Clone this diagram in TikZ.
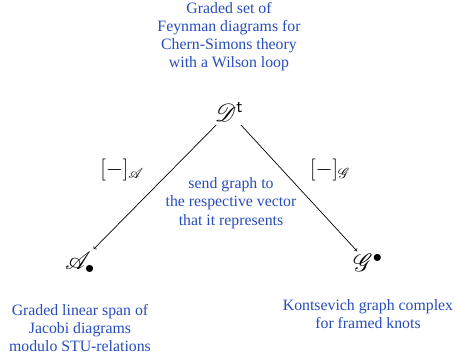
\documentclass[tikz,border=0pt]{standalone}
\usepackage{fix-cm}
\usepackage{mathrsfs}
\usepackage[no-math]{fontspec}
\setmainfont{Liberation Serif}
\usetikzlibrary{positioning}
\definecolor{capblue}{RGB}{38,76,186}
\newcommand{\Dgr}{\mathscr{D}^{\mathsf{t}}}
\newcommand{\Ajac}{\mathscr{A}_{\bullet}}
\newcommand{\Gkon}{\mathscr{G}^{\bullet}}

\begin{document}
\begin{tikzpicture}[x=1pt,y=-1pt,>=to,font=\fontsize{15.8}{18.3}\selectfont,node distance=12pt]
\tikzstyle{caption}=[text=capblue,align=center,inner sep=0pt]
\tikzstyle{obj}=[inner sep=3pt,font=\fontsize{26}{30}\selectfont]
\tikzstyle{maplabel}=[inner sep=2pt,font=\fontsize{22}{26}\selectfont]
\useasboundingbox (0,0) rectangle (468,358);
\node[obj] (D) at (229,112) {$\Dgr$};
\node[obj] (A) at (80,263) {$\Ajac$};
\node[obj] (G) at (368,263) {$\Gkon$};
\node[caption,above=27.5pt of D] (Dtext) {Graded set of\\Feynman diagrams for\\Chern-Simons theory\\with a Wilson loop};
\node[caption,below=27pt of A] (Atext) {Graded linear span of\\Jacobi diagrams\\modulo STU-relations};
\node[caption,below=24pt of G] (Gtext) {Kontsevich graph complex\\for framed knots};
\node[caption] (mid) at (231,203) {send graph to\\the respective vector\\that it represents};
\node[maplabel] (lA) at (122,170) {$[-]_{\mathscr{A}}$};
\node[maplabel] (lG) at (330,170) {$[-]_{\mathscr{G}}$};
\draw[->,line width=0.7pt] (D) -- (A);
\draw[->,line width=0.7pt] (D) -- (G);
\end{tikzpicture}
\end{document}
